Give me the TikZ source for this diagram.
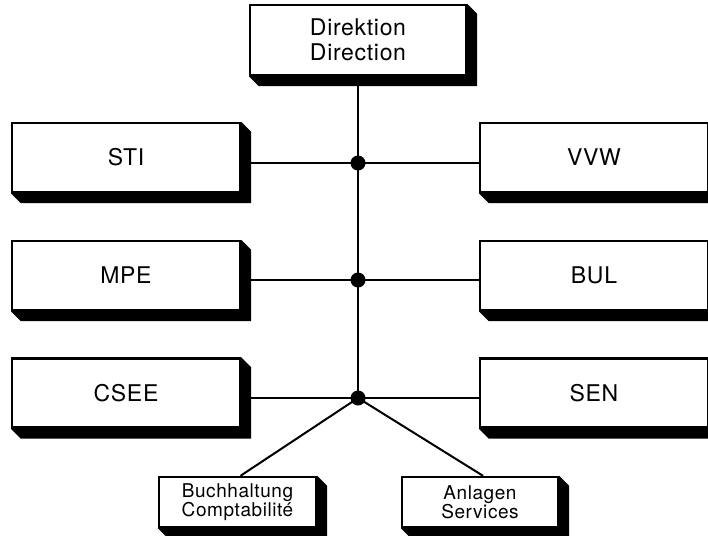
\documentclass[tikz,border=0pt]{standalone}
\usepackage{fontspec}
\newfontfamily\orgfont[LetterSpace=3]{TeX Gyre Heros}
\usetikzlibrary{calc}
\tikzset{
    unit/.style={
           rectangle,
           draw=black, line width=2.4pt,
           fill=white,
           minimum width=228pt,
           minimum height=69pt,
           inner sep=2pt,
           align=center,
           font=\orgfont\fontsize{23}{25}\selectfont,
           },
    subunit/.style={
           unit,
           minimum width=157pt,
           minimum height=50pt,
           font=\orgfont\fontsize{19}{18.5}\selectfont,
           },
    point/.style={
           circle,
           minimum width=15pt,
           inner sep=0pt,
           fill
           },
    link/.style={line width=2pt},
}

\begin{document}
\begin{tikzpicture}[x=1pt,y=-1pt]
   \useasboundingbox (0,0) rectangle (708,535);

   \node[unit, minimum width=216pt, minimum height=70pt] (dir) at (358,40) {Direktion\\Direction};
   \node[unit] (sti) at (126,157.5) {STI};
   \node[unit] (vvw) at (594,157.5) {VVW};
   \node[unit] (mpe) at (126,275.5) {MPE};
   \node[unit] (bul) at (594,275.5) {BUL};
   \node[unit] (cse) at (126,393) {CSEE};
   \node[unit] (sen) at (594,393) {SEN};
   \node[subunit] (buc) at (237.5,502) {Buchhaltung\\Comptabilit\'e};
   \node[subunit, minimum width=156pt] (anl) at (480,502) {Anlagen\\Services};

   \coordinate (j1) at (358,163);
   \coordinate (j2) at (358,280);
   \coordinate (j3) at (358,398);

   % extruded edges
   \foreach \n in {dir,sti,vvw,mpe,bul,cse,sen,buc,anl}
      \fill (\n.south west) -- ++(10,10) -- ($(\n.south east)+(10,10)$)
            -- ($(\n.north east)+(10,10)$) -- (\n.north east) -- (\n.south east) -- cycle;

   \path[link]
    (dir.south) edge (j3)
    (j1) edge (sti.east |- j1)
    (j1) edge (vvw.west |- j1)
    (j2) edge (mpe.east |- j2)
    (j2) edge (bul.west |- j2)
    (j3) edge (cse.east |- j3)
    (j3) edge (sen.west |- j3)
    (j3) edge ($(buc.north)+(3,0)$)
    (j3) edge ($(anl.north)+(3,0)$)
       ;

   \foreach \j in {j1,j2,j3}
      \node[point] at (\j) {};
\end{tikzpicture}
\end{document}
